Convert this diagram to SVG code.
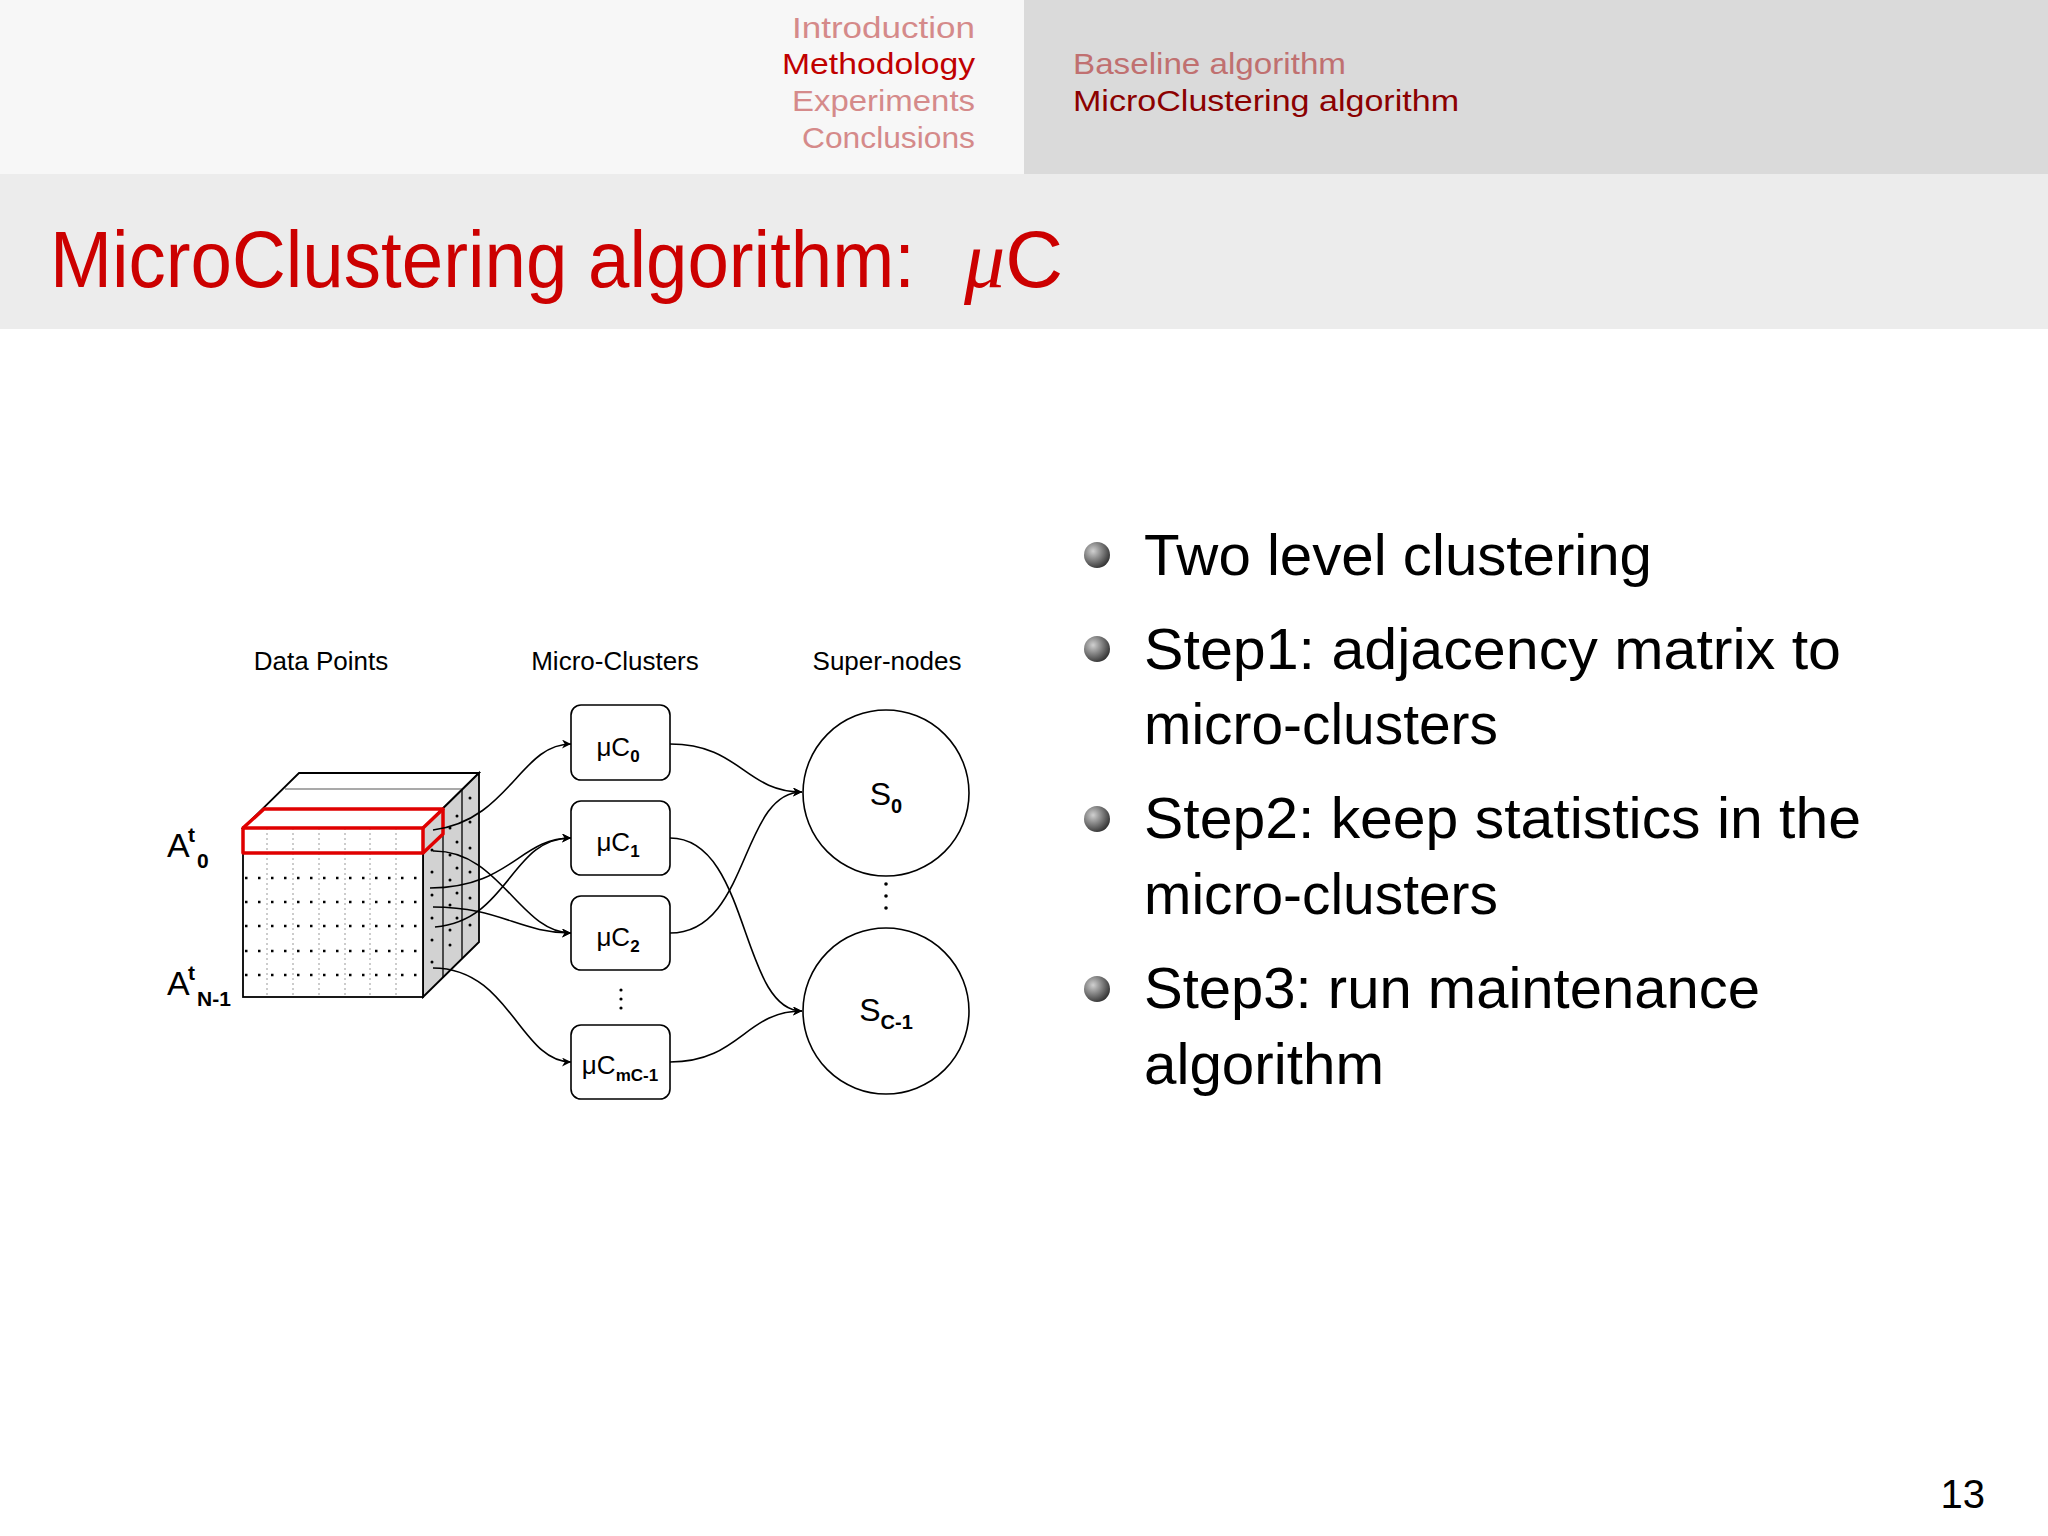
<svg xmlns="http://www.w3.org/2000/svg" width="2048" height="1536" viewBox="0 0 2048 1536">
<defs>
<style>
.nav{font-family:"Liberation Sans",sans-serif;font-size:30px;fill:#d58a8a}
.bul{font-family:"Liberation Sans",sans-serif;font-size:58px;fill:#000}
.lbl{font-family:"Liberation Sans",Arial,sans-serif;font-size:26px;fill:#000}
.big{font-family:"Liberation Sans",Arial,sans-serif;font-size:34px;fill:#000}
.sm{font-family:"Liberation Sans",Arial,sans-serif;font-size:21px;font-weight:bold;fill:#000}
.box{fill:#fff;stroke:#000;stroke-width:1.6}
.sub{font-size:17px;font-weight:bold}
.sub2{font-size:20px;font-weight:bold}
.con{fill:none;stroke:#000;stroke-width:1.6;marker-end:url(#ah)}
.dv{stroke:#999;stroke-width:1;stroke-dasharray:2 3}
.dh{stroke:#000;stroke-width:2.5;stroke-dasharray:2.5 10.5}
</style>
<marker id="ah" viewBox="0 0 10 10" refX="10" refY="5" markerWidth="9" markerHeight="9" markerUnits="userSpaceOnUse" orient="auto"><path d="M0,0 L10,5 L0,10 L3,5 z" fill="#000"/></marker>
<radialGradient id="ball" cx="0.35" cy="0.35" r="0.7"><stop offset="0" stop-color="#d0d0d0"/><stop offset="1" stop-color="#333"/></radialGradient>
</defs>
<rect width="2048" height="1536" fill="#fff"/>
<rect x="0" y="0" width="1024" height="174" fill="#f7f7f7"/>
<rect x="1024" y="0" width="1024" height="174" fill="#dadada"/>
<rect x="0" y="174" width="2048" height="155" fill="#ececec"/>
<g id="nav">
<text class="nav" x="975" y="38" text-anchor="end" textLength="183" lengthAdjust="spacingAndGlyphs">Introduction</text>
<text class="nav" x="975" y="74" text-anchor="end" textLength="193" lengthAdjust="spacingAndGlyphs" style="fill:#c00000">Methodology</text>
<text class="nav" x="975" y="111" text-anchor="end" textLength="183" lengthAdjust="spacingAndGlyphs">Experiments</text>
<text class="nav" x="975" y="148" text-anchor="end" textLength="173" lengthAdjust="spacingAndGlyphs">Conclusions</text>
<text class="nav" x="1073" y="74" textLength="273" lengthAdjust="spacingAndGlyphs" style="fill:#c07070">Baseline algorithm</text>
<text class="nav" x="1073" y="111" textLength="386" lengthAdjust="spacingAndGlyphs" style="fill:#8b0000">MicroClustering algorithm</text>
</g>
<g id="title">
<text x="50" y="287" font-family="Liberation Sans,sans-serif" font-size="80" fill="#cc0000" textLength="865" lengthAdjust="spacingAndGlyphs">MicroClustering algorithm:</text>
<text x="964" y="287" font-family="Liberation Sans,sans-serif" font-size="80" fill="#cc0000"><tspan font-family="Liberation Serif,serif" font-style="italic" font-size="82">μ</tspan>C</text>
</g>
<g id="bullets">
<circle cx="1097" cy="555" r="13" fill="url(#ball)"/>
<circle cx="1097" cy="649" r="13" fill="url(#ball)"/>
<circle cx="1097" cy="819" r="13" fill="url(#ball)"/>
<circle cx="1097" cy="989" r="13" fill="url(#ball)"/>
<text class="bul" x="1144" y="575" textLength="508" lengthAdjust="spacingAndGlyphs">Two level clustering</text>
<text class="bul" x="1144" y="669" textLength="697" lengthAdjust="spacingAndGlyphs">Step1: adjacency matrix to</text>
<text class="bul" x="1144" y="744" textLength="354" lengthAdjust="spacingAndGlyphs">micro-clusters</text>
<text class="bul" x="1144" y="838" textLength="717" lengthAdjust="spacingAndGlyphs">Step2: keep statistics in the</text>
<text class="bul" x="1144" y="914" textLength="354" lengthAdjust="spacingAndGlyphs">micro-clusters</text>
<text class="bul" x="1144" y="1008" textLength="616" lengthAdjust="spacingAndGlyphs">Step3: run maintenance</text>
<text class="bul" x="1144" y="1084" textLength="240" lengthAdjust="spacingAndGlyphs">algorithm</text>
</g>
<text x="1985" y="1508" text-anchor="end" font-family="Liberation Sans,sans-serif" font-size="40" fill="#000">13</text>
<g id="headers">
<text class="lbl" x="321" y="670" text-anchor="middle">Data Points</text>
<text class="lbl" x="615" y="670" text-anchor="middle">Micro-Clusters</text>
<text class="lbl" x="887" y="670" text-anchor="middle">Super-nodes</text>
</g>
<g id="cube">
<polygon points="243,828 299,773 479,773 423,828" fill="#fff" stroke="#000" stroke-width="1.8"/>
<line x1="285" y1="789" x2="463" y2="789" stroke="#555" stroke-width="1.2"/>
<polygon points="423,828 479,773 479,942 423,997" fill="#d2d2d2" stroke="#000" stroke-width="1.8"/>
<line x1="443" y1="809" x2="443" y2="978" stroke="#000" stroke-width="1.3"/>
<line x1="462" y1="789" x2="462" y2="958" stroke="#000" stroke-width="1.3"/>
<g fill="#000">
<circle cx="432" cy="850" r="1.5"/><circle cx="432" cy="872" r="1.5"/><circle cx="432" cy="895" r="1.5"/><circle cx="432" cy="918" r="1.5"/><circle cx="432" cy="940" r="1.5"/><circle cx="432" cy="962" r="1.5"/>
<circle cx="450" cy="828" r="1.5"/><circle cx="450" cy="855" r="1.5"/><circle cx="450" cy="880" r="1.5"/><circle cx="450" cy="905" r="1.5"/><circle cx="450" cy="930" r="1.5"/><circle cx="450" cy="945" r="1.5"/>
<circle cx="457" cy="816" r="1.5"/><circle cx="457" cy="842" r="1.5"/><circle cx="457" cy="868" r="1.5"/><circle cx="457" cy="893" r="1.5"/><circle cx="457" cy="918" r="1.5"/>
<circle cx="470" cy="798" r="1.5"/><circle cx="470" cy="822" r="1.5"/><circle cx="470" cy="848" r="1.5"/><circle cx="470" cy="872" r="1.5"/><circle cx="470" cy="898" r="1.5"/><circle cx="470" cy="925" r="1.5"/>
</g>
<rect x="243" y="828" width="180" height="169" fill="#fff" stroke="#000" stroke-width="1.8"/>
<g>
<line class="dv" x1="267" y1="828" x2="267" y2="997"/><line class="dv" x1="293" y1="828" x2="293" y2="997"/><line class="dv" x1="319" y1="828" x2="319" y2="997"/><line class="dv" x1="345" y1="828" x2="345" y2="997"/><line class="dv" x1="370" y1="828" x2="370" y2="997"/><line class="dv" x1="396" y1="828" x2="396" y2="997"/>
<line class="dh" x1="245" y1="878" x2="423" y2="878"/><line class="dh" x1="245" y1="902" x2="423" y2="902"/><line class="dh" x1="245" y1="926" x2="423" y2="926"/><line class="dh" x1="245" y1="951" x2="423" y2="951"/><line class="dh" x1="245" y1="975" x2="423" y2="975"/>
</g>
<g fill="none" stroke="#e00000" stroke-width="3.5" stroke-linejoin="round">
<rect x="243" y="828" width="180" height="25"/>
<polyline points="243,828 264,809 443,809 423,828"/>
<polyline points="443,809 443,834 423,853"/>
</g>
<text class="big" x="167" y="857">A</text>
<text class="sm" x="188" y="842">t</text>
<text class="sm" x="197" y="868">0</text>
<text class="big" x="167" y="995">A</text>
<text class="sm" x="188" y="980">t</text>
<text class="sm" x="197" y="1006">N-1</text>
</g>
<g id="connectors">
<path class="con" d="M433,830 C510,820 520,744 571,744"/>
<path class="con" d="M433,851 C500,850 520,933 571,933"/>
<path class="con" d="M430,888 C510,888 520,838 571,838"/>
<path class="con" d="M433,907 C500,907 520,933 571,933"/>
<path class="con" d="M435,927 C510,920 510,838 571,838"/>
<path class="con" d="M433,968 C510,968 520,1062 571,1062"/>
<path class="con" d="M670,744 C740,744 745,792 802,792"/>
<path class="con" d="M670,838 C750,838 740,1011 802,1011"/>
<path class="con" d="M670,933 C750,933 740,792 802,792"/>
<path class="con" d="M670,1062 C740,1062 745,1011 802,1011"/>
</g>
<g id="muC0"><rect class="box" x="571" y="705" width="99" height="75" rx="10"/><text class="lbl" x="618" y="756" text-anchor="middle">μC<tspan class="sub" dy="6">0</tspan></text></g>
<g id="muC1"><rect class="box" x="571" y="801" width="99" height="74" rx="10"/><text class="lbl" x="618" y="851" text-anchor="middle">μC<tspan class="sub" dy="6">1</tspan></text></g>
<g id="muC2"><rect class="box" x="571" y="896" width="99" height="74" rx="10"/><text class="lbl" x="618" y="946" text-anchor="middle">μC<tspan class="sub" dy="6">2</tspan></text></g>
<g id="muCmC1"><rect class="box" x="571" y="1025" width="99" height="74" rx="10"/><text class="lbl" x="620" y="1074" text-anchor="middle">μC<tspan class="sub" dy="7">mC-1</tspan></text></g>
<g fill="#000"><circle cx="621" cy="990" r="1.6"/><circle cx="621" cy="999" r="1.6"/><circle cx="621" cy="1008" r="1.6"/>
<circle cx="886" cy="884" r="1.8"/><circle cx="886" cy="896" r="1.8"/><circle cx="886" cy="908" r="1.8"/></g>
<g id="S0"><circle class="box" cx="886" cy="793" r="83"/><text class="big" x="886" y="805" style="font-size:32px" text-anchor="middle">S<tspan class="sub2" dy="8">0</tspan></text></g>
<g id="SC1"><circle class="box" cx="886" cy="1011" r="83"/><text class="big" x="886" y="1021" style="font-size:32px" text-anchor="middle">S<tspan class="sub2" dy="8">C-1</tspan></text></g>
</svg>
